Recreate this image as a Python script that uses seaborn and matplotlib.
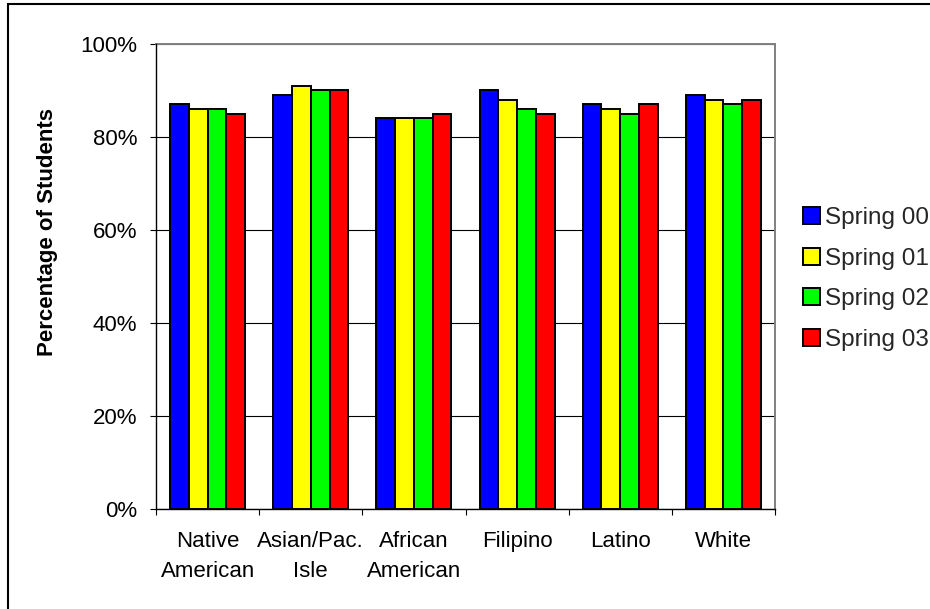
import matplotlib
matplotlib.use("Agg")
import matplotlib.pyplot as plt
from matplotlib.patches import Rectangle, Patch
from matplotlib.ticker import FixedLocator, FuncFormatter
import pandas as pd
import seaborn as sns

# Percentage of students by ethnic group, four spring terms
groups = ["Native\nAmerican", "Asian/Pac.\nIsle", "African\nAmerican",
          "Filipino", "Latino", "White"]
terms = ["Spring 00", "Spring 01", "Spring 02", "Spring 03"]
spring_00 = [87, 89, 84, 90, 87, 89]
spring_01 = [86, 91, 84, 88, 86, 88]
spring_02 = [86, 90, 84, 86, 85, 87]
spring_03 = [85, 90, 85, 85, 87, 88]
term_colors = ["#0000FF", "#FFFF00", "#00FF00", "#FF0000"]

rows = []
for term, vals in zip(terms, [spring_00, spring_01, spring_02, spring_03]):
    for g, v in zip(groups, vals):
        rows.append({"group": g, "term": term, "pct": v})
df = pd.DataFrame(rows)

sns.set_theme(style="white")
plt.rcParams["font.family"] = ["Liberation Sans", "DejaVu Sans"]

W, H = 930, 609
fig = plt.figure(figsize=(W / 100, H / 100), dpi=100)
fig.patch.set_facecolor("white")
ax = fig.add_axes([156 / W, 1 - 509 / H, (775 - 156) / W, (509 - 44) / H])

ax.yaxis.grid(True, color="black", linewidth=0.8)
ax.set_axisbelow(True)

sns.barplot(data=df, x="group", y="pct", hue="term", order=groups,
            hue_order=terms, palette=term_colors, saturation=1,
            width=0.727, gap=0, edgecolor="black", linewidth=1.4,
            ax=ax, legend=False)

ax.set_xlim(-0.5, len(groups) - 0.5)
ax.set_ylim(0, 100)
ax.yaxis.set_major_locator(FixedLocator([0, 20, 40, 60, 80, 100]))
ax.yaxis.set_major_formatter(FuncFormatter(lambda v, p: f"{int(v)}%"))
ax.tick_params(axis="y", which="major", direction="out", length=4.5,
               width=0.8, color="black", labelsize=16, pad=9,
               left=True, labelcolor="black")

ax.set_xticks(range(len(groups)))
ax.set_xticklabels(groups, fontsize=16, linespacing=1.55)
ax.set_xticks([i - 0.5 for i in range(len(groups) + 1)], minor=True)
ax.tick_params(axis="x", which="major", length=0, pad=16, labelcolor="black")
ax.tick_params(axis="x", which="minor", direction="out", length=4.5,
               width=0.8, color="black", bottom=True)

ax.set_xlabel("")
ax.set_ylabel("")

for side in ["top", "right"]:
    ax.spines[side].set_visible(True)
    ax.spines[side].set_color("#808080")
    ax.spines[side].set_linewidth(1.4)
for side in ["left", "bottom"]:
    ax.spines[side].set_color("black")
    ax.spines[side].set_linewidth(1.0)
    ax.spines[side].set_zorder(5)

fig.text(48 / W, 1 - 232 / H, "Percentage of Students", rotation=90,
         ha="center", va="center", fontsize=16, fontweight="bold",
         color="black")

handles = [Patch(facecolor=c, edgecolor="black", linewidth=1.4) for c in term_colors]
fig.legend(handles, terms, loc="upper left",
           bbox_to_anchor=(803 / W, 1 - 207 / H), frameon=False,
           fontsize=17.5, handlelength=0.7, handleheight=0.7,
           handletextpad=0.2, labelspacing=0.77, borderaxespad=0,
           borderpad=0)

# chart border
fig.add_artist(Rectangle((7.5 / W, -0.05), 1.2, (H - 3.5) / H + 0.05,
                         transform=fig.transFigure, fill=False,
                         edgecolor="black", linewidth=1.5, clip_on=False))

fig.savefig("out.png", dpi=100, facecolor="white")
